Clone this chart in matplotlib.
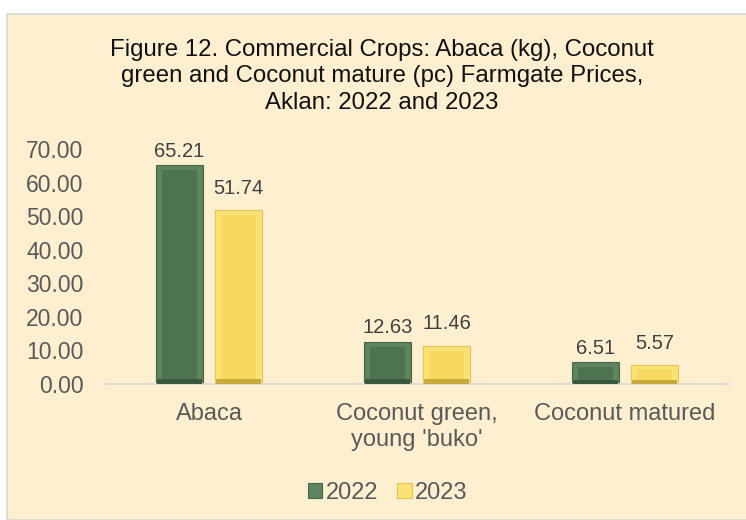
import matplotlib.pyplot as plt
from matplotlib.patches import Rectangle
import numpy as np

# data
categories = ["Abaca", "Coconut green,\nyoung 'buko'", "Coconut matured"]
years = ["2022", "2023"]
prices_2022 = [65.21, 12.63, 6.51]
prices_2023 = [51.74, 11.46, 5.57]

plt.rcParams['font.family'] = ['Liberation Sans', 'DejaVu Sans']

bg = '#FEEFD0'
txt = '#595959'
# (rim, face, dark bottom, outline) for the bevelled bars
g_cols = ('#5E8460', '#4E7350', '#3A583C', '#46684A')
y_cols = ('#FAE276', '#F6D95E', '#C8A93C', '#E5C650')

fig = plt.figure(figsize=(7.46, 5.2), dpi=100)
fig.patch.set_facecolor('white')
# beige panel with thin grey frame
fig.patches.append(Rectangle((7/746, 0), 1, 1 - 14/520, transform=fig.transFigure,
                             facecolor=bg, edgecolor='#D9D9D9', lw=1.2, zorder=-10))

ax = fig.add_axes([105/746, 1 - 384/520, 624/746, 235/520])
ax.patch.set_alpha(0)

x = np.arange(len(categories))
w = 0.226
off = 0.142

def bevel_bars(xs, vals, cols, label):
    rim, face, dark, outl = cols
    bars = ax.bar(xs, vals, w, color=rim, edgecolor=outl, lw=0.8, zorder=2, label=label)
    for xi, v in zip(xs, vals):
        iy = min(1.5, v * 0.2)
        ax.add_patch(Rectangle((xi - w / 2 + 0.004, 0), w - 0.008, iy,
                               facecolor=dark, edgecolor='none', zorder=3))
        ax.add_patch(Rectangle((xi - w / 2 + 0.03, iy), w - 0.06, v - 2 * iy,
                               facecolor=face, edgecolor='none', zorder=4))
    return bars

b1 = bevel_bars(x - off, prices_2022, g_cols, years[0])
b2 = bevel_bars(x + off, prices_2023, y_cols, years[1])

for bars, dy in ((b1, 3), (b2, 9)):
    for r in bars:
        ax.annotate(f"{r.get_height():.2f}", (r.get_x() + r.get_width() / 2, r.get_height()),
                    xytext=(0, dy), textcoords='offset points', ha='center', va='bottom',
                    fontsize=14.5, color='#404040')

ax.set_xlim(-0.5, 2.5)
ax.set_ylim(0, 70)
ax.set_yticks(np.arange(0, 71, 10))
ax.set_yticklabels([f"{v:.2f}" for v in np.arange(0, 71, 10)])
ax.set_xticks(x)
ax.set_xticklabels(categories)
ax.tick_params(axis='y', length=0, pad=15.5, labelsize=16.5, labelcolor=txt)
ax.tick_params(axis='x', length=0, pad=14, labelsize=17, labelcolor=txt)
for s in ['top', 'right', 'left']:
    ax.spines[s].set_visible(False)
ax.spines['bottom'].set_color('#D9D9D9')
ax.spines['bottom'].set_linewidth(1.2)

fig.text(0.512, 0.853, "Figure 12. Commercial Crops: Abaca (kg), Coconut\n"
         "green and Coconut mature (pc) Farmgate Prices,\nAklan: 2022 and 2023",
         ha='center', va='center', fontsize=17.3, color='#111111', linespacing=1.27)

leg = fig.legend(handles=[b1, b2], loc='center', bbox_to_anchor=(0.52, 0.052), ncol=2,
                 frameon=False, fontsize=17, handlelength=0.6, handleheight=0.6,
                 handletextpad=0.15, columnspacing=0.8, borderpad=0.2)
for t in leg.get_texts():
    t.set_color(txt)

fig.savefig('out.png', dpi=100, facecolor=fig.get_facecolor())
